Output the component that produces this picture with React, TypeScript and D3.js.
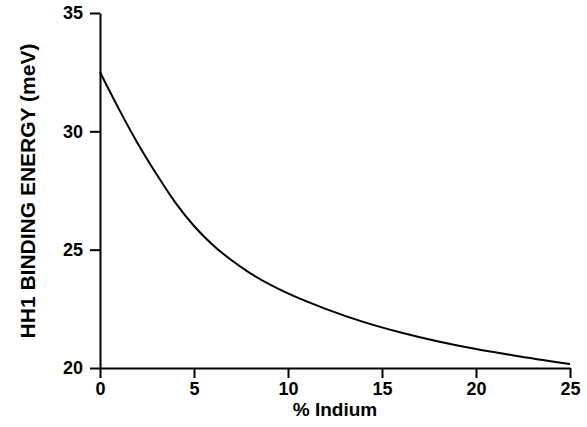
import React, { useRef, useEffect } from 'react';
import * as d3 from 'd3';

// % Indium
const indium = [0, 1, 2, 3, 4, 5, 6, 7, 8, 10, 12, 14, 16, 18, 20, 22, 25];
// HH1 binding energy (meV)
const energy = [32.5, 30.95, 29.5, 28.2, 27.0, 26.0, 25.2, 24.55, 24.0, 23.15, 22.5, 21.95, 21.5, 21.12, 20.8, 20.53, 20.17];
const xTicks = [0, 5, 10, 15, 20, 25];
const yTicks = [20, 25, 30, 35];

const App = () => {
    const ref = useRef<SVGSVGElement>(null);

    useEffect(() => {
        const svg = d3.select(ref.current);
        svg.selectAll('*').remove();

        const x = d3.scaleLinear().domain([0, 25]).range([100, 570]);
        const y = d3.scaleLinear().domain([20, 35]).range([368, 13]);
        const font = '"Liberation Sans", Arial, sans-serif';

        const xAxis = svg.append('g')
            .attr('transform', 'translate(0,368)')
            .call(d3.axisBottom(x).tickValues(xTicks).tickSize(10).tickPadding(4).tickSizeOuter(0));
        const yAxis = svg.append('g')
            .attr('transform', 'translate(100,0)')
            .call(d3.axisLeft(y).tickValues(yTicks).tickSize(10).tickPadding(7).tickSizeOuter(0));

        [xAxis, yAxis].forEach(g => {
            g.select('.domain').attr('stroke', '#000').attr('stroke-width', 2);
            g.selectAll('.tick line').attr('stroke', '#000').attr('stroke-width', 2);
            g.selectAll('.tick text')
                .attr('fill', '#000')
                .style('font-family', font)
                .style('font-weight', 'bold')
                .style('font-size', '18px');
        });

        const line = d3.line<number>()
            .x((d, i) => x(indium[i]))
            .y(d => y(d))
            .curve(d3.curveMonotoneX);

        svg.append('path')
            .datum(energy)
            .attr('fill', 'none')
            .attr('stroke', '#000')
            .attr('stroke-width', 2)
            .attr('d', line);

        svg.append('text')
            .attr('x', 335)
            .attr('y', 416)
            .attr('text-anchor', 'middle')
            .style('font-family', font)
            .style('font-weight', 'bold')
            .style('font-size', '19px')
            .text('% Indium');

        svg.append('text')
            .attr('transform', 'translate(35,191) rotate(-90)')
            .attr('text-anchor', 'middle')
            .style('font-family', font)
            .style('font-weight', 'bold')
            .style('font-size', '21px')
            .text('HH1 BINDING ENERGY (meV)');
    }, []);

    return (
        <svg ref={ref} width={587} height={427}
            style={{ position: 'absolute', left: 0, top: 0, background: '#fff' }} />
    );
};

export default App;
